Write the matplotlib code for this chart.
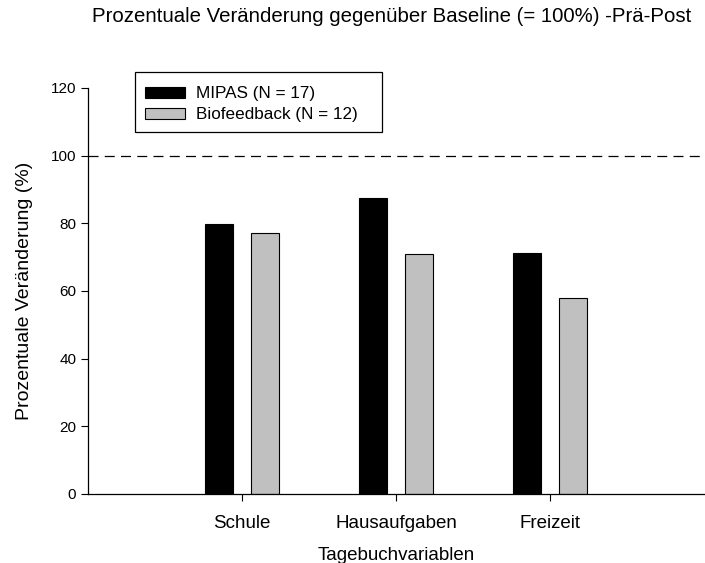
import matplotlib
matplotlib.use('Agg')
import matplotlib.pyplot as plt
from matplotlib.patches import Rectangle
import numpy as np

plt.rcParams['font.family'] = ['Liberation Sans', 'DejaVu Sans']

categories = ['Schule', 'Hausaufgaben', 'Freizeit']
mipas = [79.8, 87.5, 71.3]
biofeedback = [77.0, 70.9, 57.9]
series_labels = ['MIPAS (N = 17)', 'Biofeedback (N = 12)']
baseline = 100
yticks = [0, 20, 40, 60, 80, 100, 120]

fig = plt.figure(figsize=(7.05, 5.63), dpi=100)
ax = fig.add_axes([0.1248, 0.1226, 0.8738, 0.7211])

x = np.arange(1, len(categories) + 1)
w = 0.185
ax.bar(x - 0.15, mipas, w, color='black', edgecolor='black', linewidth=0.8,
       label=series_labels[0])
ax.bar(x + 0.15, biofeedback, w, color='#c0c0c0', edgecolor='black', linewidth=0.8,
       label=series_labels[1])
ax.axhline(baseline, color='black', linestyle=(0, (8, 5)), linewidth=0.9)

ax.set_xlim(0, 4)
ax.set_ylim(0, 120)
ax.set_xticks(x)
ax.set_xticklabels(categories, fontsize=13.5)
ax.set_yticks(yticks)
ax.tick_params(axis='y', labelsize=11, direction='out', length=5, width=0.8)
ax.tick_params(axis='x', direction='out', length=5, width=0.8, pad=10)
for s in ['top', 'right']:
    ax.spines[s].set_visible(False)
ax.spines['left'].set_linewidth(0.9)
ax.spines['bottom'].set_linewidth(0.9)

ax.set_ylabel('Prozentuale Veränderung (%)', fontsize=14, labelpad=13)
ax.set_xlabel('Tagebuchvariablen', fontsize=13.5, labelpad=11)
fig.text(0.556, 0.987, 'Prozentuale Veränderung gegenüber Baseline (= 100%) -Prä-Post',
         ha='center', va='top', fontsize=14.7)

# legend box drawn separately so the right padding matches the original
ax.add_patch(Rectangle((135 / 705, 1 - 132 / 563), 247 / 705, 60 / 563,
                       transform=fig.transFigure, facecolor='white',
                       edgecolor='black', linewidth=0.9, zorder=4, clip_on=False))
leg = ax.legend(loc='upper left', bbox_to_anchor=(0.1915, 0.865),
                bbox_transform=fig.transFigure, fontsize=12.3, frameon=False,
                handlelength=2.35, handleheight=0.6,
                handletextpad=0.6, borderpad=0.6, labelspacing=0.35, borderaxespad=0)
leg.set_zorder(5)

fig.savefig('out.png', dpi=100)
